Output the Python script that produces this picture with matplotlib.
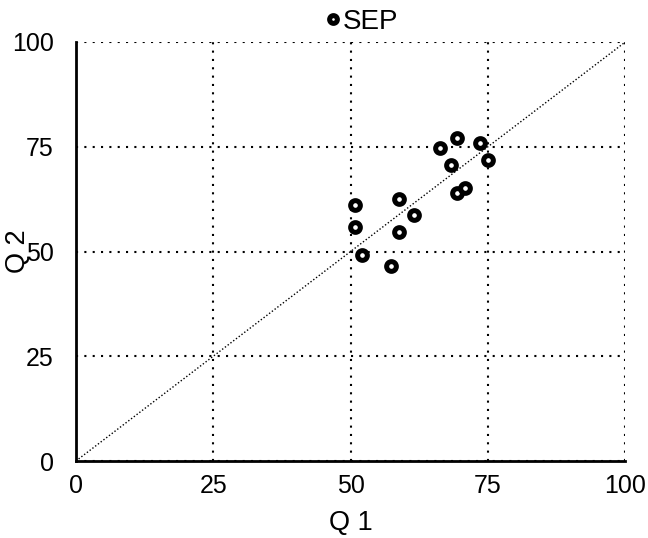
import numpy as np
import matplotlib.pyplot as plt

plt.rcParams['font.family'] = ['Liberation Sans', 'DejaVu Sans']

# data
q1 = [50.8, 50.8, 52.0, 57.4, 58.8, 58.8, 61.5, 66.2, 69.4, 68.2, 69.4, 70.9, 73.5, 75.0]
q2 = [61.1, 55.8, 49.2, 46.6, 62.5, 54.6, 58.6, 74.6, 77.2, 70.7, 64.0, 65.2, 75.9, 71.8]
ticks = [0, 25, 50, 75, 100]

fig = plt.figure(figsize=(6.48, 5.38), dpi=100)
ax = fig.add_axes([0.117, 0.143, 0.848, 0.779])

# 1:1 line
ax.plot([0, 100], [0, 100], color='black', lw=1, ls=(0, (1, 1.5)), zorder=2)

ax.plot(q1, q2, 'o', ms=7, mfc='white', mec='black', mew=3.6,
        ls='none', label='SEP', zorder=3, clip_on=False)

ax.set_xlim(0, 100)
ax.set_ylim(0, 100)
ax.set_xticks(ticks)
ax.set_yticks(ticks)
ax.tick_params(length=0, labelsize=18)
ax.tick_params(axis='x', pad=9)
ax.tick_params(axis='y', pad=16)
ax.grid(True, color='black', lw=1.5, ls=(0, (1, 3)))

for s in ['top', 'right']:
    ax.spines[s].set_visible(False)
for s in ['left', 'bottom']:
    ax.spines[s].set_linewidth(2)

ax.set_xlabel('Q 1', fontsize=19.5, labelpad=9)
ax.set_ylabel('Q 2', fontsize=19.5)
ax.yaxis.set_label_coords(-0.082, 0.5)

ax.legend(loc='center', bbox_to_anchor=(0.5155, 1.048), frameon=False,
          fontsize=20, handletextpad=-0.15, borderpad=0, handlelength=1.0,
          markerscale=0.8)

fig.savefig('out.png')
